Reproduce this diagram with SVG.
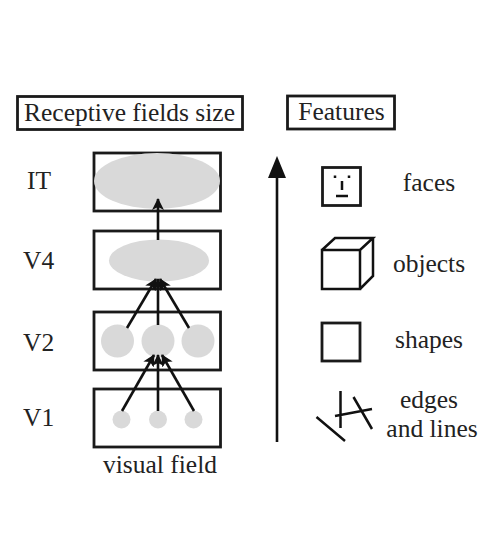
<svg xmlns="http://www.w3.org/2000/svg" width="497" height="541" viewBox="0 0 497 541">
<defs>
<marker id="a" markerUnits="userSpaceOnUse" markerWidth="14" markerHeight="14" refX="11" refY="6" orient="auto"><path d="M0 0L12 6L0 12L3 6Z" fill="#111"/></marker>
</defs>
<style>
text{font-family:"Liberation Serif","Times New Roman",serif;fill:#222;font-size:25.500px}
.t{text-anchor:middle}
.b{fill:none;stroke:#1a1a1a;stroke-width:2.800}
.g{fill:#d9d9d9}
.l{fill:none;stroke:#111;stroke-width:2.500}
.c{stroke:#111;stroke-width:2.600;fill:none;marker-end:url(#a)}
</style>
<rect width="497" height="541" fill="#fff"/>
<g id="header-size"><rect class="b" x="17.500" y="96.500" width="225" height="33"/><text class="t" x="129.500" y="120.500">Receptive fields size</text></g>
<g id="header-features"><rect class="b" x="287.500" y="96" width="107" height="33"/><text class="t" x="341.500" y="120">Features</text></g>
<g id="it"><rect class="b" x="94" y="153" width="126.500" height="58"/><ellipse class="g" cx="157" cy="181" rx="63" ry="28"/><text x="27" y="189">IT</text></g>
<g id="v4"><rect class="b" x="94" y="231" width="126.500" height="58"/><ellipse class="g" cx="159" cy="260.500" rx="50" ry="21"/><text x="23" y="269">V4</text></g>
<g id="v2"><rect class="b" x="94" y="312" width="126.500" height="58"/><circle class="g" cx="117.500" cy="341" r="16.500"/><circle class="g" cx="158" cy="341" r="16.500"/><circle class="g" cx="198" cy="341" r="16.500"/><text x="23" y="351">V2</text></g>
<g id="v1"><rect class="b" x="94" y="389" width="126.500" height="58"/><circle class="g" cx="121.500" cy="419.500" r="9"/><circle class="g" cx="158" cy="419.500" r="9"/><circle class="g" cx="193.500" cy="419.500" r="9"/><text x="23" y="426">V1</text></g>
<text id="visual-field" class="t" x="160" y="473">visual field</text>
<g id="connectors">
<path class="c" d="M158 240V199"/>
<path class="c" d="M127 328L156 279"/>
<path class="c" d="M158 325V279"/>
<path class="c" d="M189 328L160 279"/>
<path class="c" d="M122 411L154 355"/>
<path class="c" d="M158 411V355"/>
<path class="c" d="M194 411L162 355"/>
<path d="M277 442V175" stroke="#111" stroke-width="2.600" fill="none"/>
<path d="M277 156L286 178H268Z" fill="#111"/>
</g>
<g id="faces"><rect class="b" x="322.500" y="167.500" width="38" height="38"/><path class="l" d="M335 175.500V178M349 175.500V178M342 181V190M336 196H348"/><text class="t" x="429" y="191">faces</text></g>
<g id="objects"><path class="l" d="M322 250H360V289H322ZM322 250L335 238H373L360 250M373 238V276L360 289"/><text class="t" x="429" y="272">objects</text></g>
<g id="shapes"><rect class="b" x="322" y="323" width="38" height="38"/><text class="t" x="429" y="348">shapes</text></g>
<g id="edges"><path class="l" d="M340.500 391V428M335 416L372 409M353.500 397L372 429M316.500 417L345 441"/><text class="t" x="429" y="408">edges</text><text class="t" x="432" y="437">and lines</text></g>
</svg>
